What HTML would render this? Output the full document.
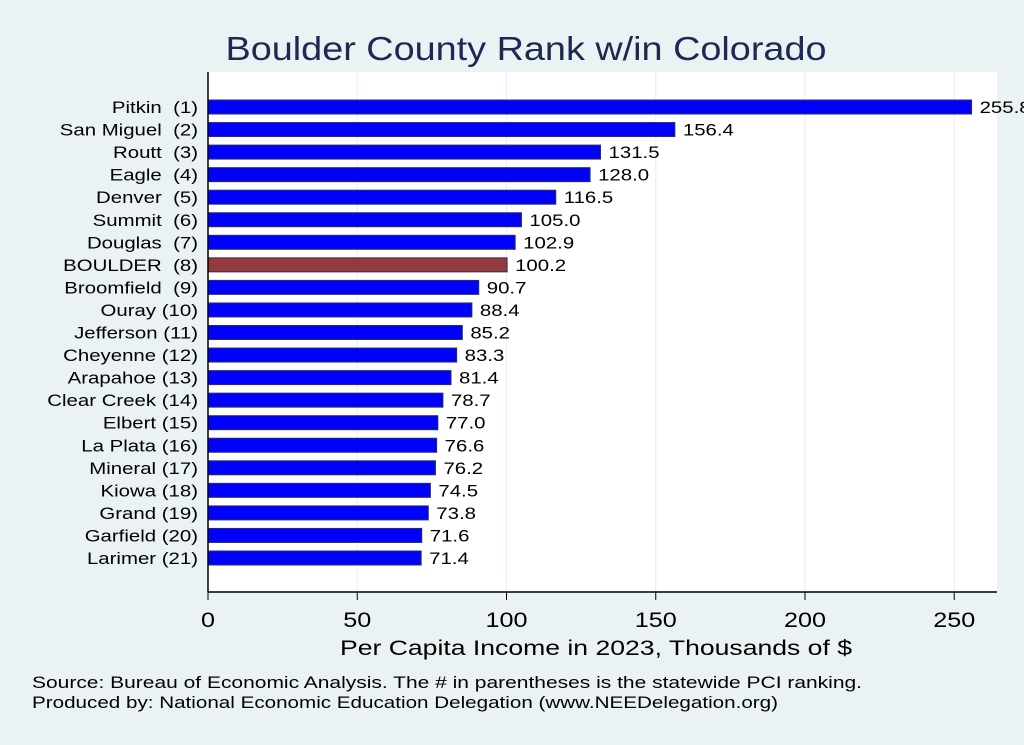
<!DOCTYPE html>
<html><head><meta charset="utf-8"><style>
body{margin:0;background:#eaf2f3;}
svg{display:block;font-family:"Liberation Sans",sans-serif;}
</style></head><body>
<svg id="c" width="1024" height="745">
<rect x="0" y="0" width="1024" height="745" fill="#eaf2f3"/>
<rect x="208" y="72" width="789" height="520" fill="#ffffff"/>
<text x="526" y="60" text-anchor="middle" font-size="33" fill="#1c2a52" textLength="601" lengthAdjust="spacingAndGlyphs">Boulder County Rank w/in Colorado</text>
<text x="596" y="655" text-anchor="middle" font-size="21" fill="#000" textLength="512" lengthAdjust="spacingAndGlyphs">Per Capita Income in 2023, Thousands of $</text>
<text x="32" y="688" font-size="17" fill="#000" textLength="830" lengthAdjust="spacingAndGlyphs">Source: Bureau of Economic Analysis. The # in parentheses is the statewide PCI ranking.</text>
<text x="32" y="708" font-size="17" fill="#000" textLength="746" lengthAdjust="spacingAndGlyphs">Produced by: National Economic Education Delegation (www.NEEDelegation.org)</text>
<g id="g"></g>
</svg>
<script>
const categories=["Pitkin  (1)","San Miguel  (2)","Routt  (3)","Eagle  (4)","Denver  (5)","Summit  (6)","Douglas  (7)","BOULDER  (8)","Broomfield  (9)","Ouray (10)","Jefferson (11)","Cheyenne (12)","Arapahoe (13)","Clear Creek (14)","Elbert (15)","La Plata (16)","Mineral (17)","Kiowa (18)","Grand (19)","Garfield (20)","Larimer (21)"];
const values=[255.8,156.4,131.5,128.0,116.5,105.0,102.9,100.2,90.7,88.4,85.2,83.3,81.4,78.7,77.0,76.6,76.2,74.5,73.8,71.6,71.4];
const ticks=[0,50,100,150,200,250];
const highlight="BOULDER  (8)";
const NS="http://www.w3.org/2000/svg";
const g=document.getElementById('g');
const x=v=>208+v*2.985;
const y=i=>107+i*22.55;
function mk(t,a){const e=document.createElementNS(NS,t);for(const k in a)e.setAttribute(k,a[k]);g.appendChild(e);return e;}
function txt(tx,ty,s,anchor,fs){const e=mk('text',{transform:'translate('+tx+','+ty+') scale(1.2,1)','text-anchor':anchor,'font-size':fs});e.style.whiteSpace='pre';e.textContent=s;return e;}
ticks.forEach(t=>{
  const gl=mk('line',{x1:x(t),x2:x(t),y1:72,y2:592,stroke:'#e6eef0','stroke-width':1});
  
  
  const tk=mk('line',{x1:x(t),x2:x(t),y1:592,y2:600,stroke:'#000','stroke-width':1});
  
  
  const tl=txt(x(t),627,String(t),'middle',21);
  
  
});
categories.forEach((c,i)=>{
  const v=values[i];
  const b=mk('rect',{x:208,y:y(i)-7,width:x(v)-208,height:14,fill:c===highlight?'#943a3c':'#0000ff',stroke:'#2a2f5a','stroke-width':1});
  
  
  const vl=txt(x(v)+8,y(i)+6,v.toFixed(1),'start',17);
  
  
  const cl=txt(198,y(i)+6,c,'end',17);
  
  
});
const ya=mk('line',{x1:208,x2:208,y1:72,y2:592,stroke:'#000','stroke-width':1.5});


const xa=mk('line',{x1:208,x2:997,y1:592,y2:592,stroke:'#000','stroke-width':1.5});


</script>
</body></html>
